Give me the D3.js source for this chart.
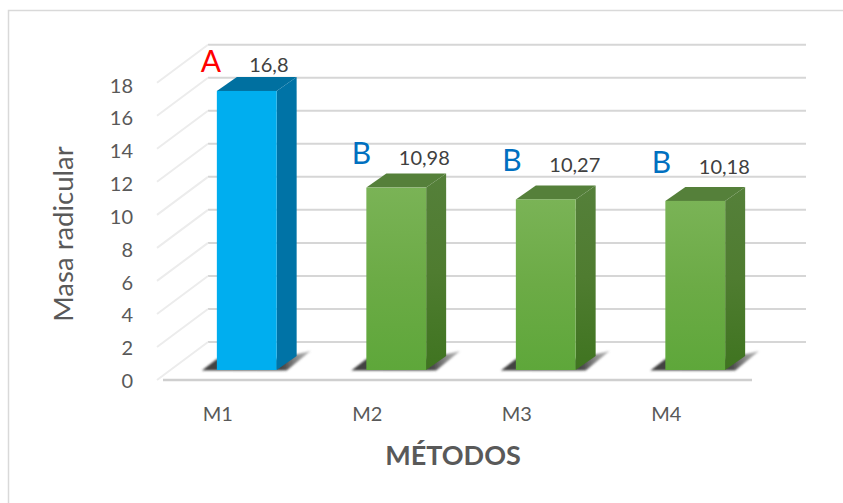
<!DOCTYPE html>
<html>
<head>
<meta charset="utf-8">
<script src="https://cdn.jsdelivr.net/npm/d3@7"></script>
<style>
html,body{margin:0;padding:0;background:#fff;overflow:hidden}
text{font-family:Lato,"Open Sans",sans-serif}
</style>
</head>
<body>
<svg id="chart" width="843" height="503"></svg>
<script>
// Root mass per method, with significance letters
const metodos = ["M1", "M2", "M3", "M4"];
const masa = [16.8, 10.98, 10.27, 10.18];
const etiquetas = ["16,8", "10,98", "10,27", "10,18"];
const letras = ["A", "B", "B", "B"];
const yTicks = [0, 2, 4, 6, 8, 10, 12, 14, 16, 18];

const svg = d3.select("#chart");
const defs = svg.append("defs");

// Three value scales: back wall, bar plane, and tick-label column
const yWall = d3.scaleLinear().domain([0, 18]).range([342, 44.7]);
const yBar = d3.scaleLinear().domain([0, 18]).range([370, 71]);
const yLabel = d3.scaleLinear().domain([0, 18]).range([381, 85.5]);
const x = d3.scaleBand().domain(metodos).range([172, 770]).paddingInner(0.6).paddingOuter(0.3);

const depthX = 20, depthY = 14;
const sideX = 51, sideY = 38;
const wallLeft = 208, wallRight = 806;

// Hand-placed label offsets relative to each bar's top-left corner
const valueOffset = (i) => i === 0 ? [52, -19] : i === 1 ? [58, -23] : [59, -27];
const letterOffset = (i) => i === 0 ? [-6, -19] : i === 1 ? [-5, -24] : [-4, -28];

// Frame: top and left edges only
svg.append("path").attr("d", "M8.5,503V10.5H843").attr("fill", "none")
  .attr("stroke", "#d9d9d9").attr("stroke-width", 1.5);

// Gradients for the front faces
const grad = (id, a, b, c) => {
  const g = defs.append("linearGradient").attr("id", id).attr("x1", 0).attr("x2", 0).attr("y1", 0).attr("y2", 1);
  g.append("stop").attr("offset", "0%").attr("stop-color", a);
  g.append("stop").attr("offset", "50%").attr("stop-color", b);
  g.append("stop").attr("offset", "100%").attr("stop-color", c);
};
grad("frontGreen", "#7ab356", "#6cab46", "#5ea73a");
grad("sideGreen", "#55803a", "#4f7c30", "#3f7420");
const sh = defs.append("linearGradient").attr("id", "floorShadow").attr("x1", 0).attr("x2", 1).attr("y1", 0).attr("y2", 0);
sh.append("stop").attr("offset", "0%").attr("stop-color", "#404040").attr("stop-opacity", 1);
sh.append("stop").attr("offset", "75%").attr("stop-color", "#404040").attr("stop-opacity", 0.95);
sh.append("stop").attr("offset", "100%").attr("stop-color", "#777").attr("stop-opacity", 0.45);
defs.append("filter").attr("id", "soft").attr("x", "-10%").attr("y", "-50%").attr("width", "120%").attr("height", "200%")
  .append("feGaussianBlur").attr("stdDeviation", 0.9);
defs.append("filter").attr("id", "softLine").attr("x", "-5%").attr("y", "-5%").attr("width", "110%").attr("height", "110%")
  .append("feGaussianBlur").attr("stdDeviation", 0.6);

// Back wall gridlines and the slanted side-wall lines
const grid = svg.append("g").attr("filter", "url(#softLine)");
grid.selectAll(".wall").data(yTicks).join("line")
  .attr("x1", wallLeft).attr("x2", wallRight)
  .attr("y1", d => yWall(d)).attr("y2", d => yWall(d))
  .attr("stroke", "#d6d6d6").attr("stroke-width", 2);
grid.selectAll(".side").data(yTicks).join("line")
  .attr("x1", wallLeft).attr("x2", wallLeft - sideX)
  .attr("y1", d => yWall(d)).attr("y2", d => yWall(d) + sideY)
  .attr("stroke", "#ececec").attr("stroke-width", 2);
grid.append("line")
  .attr("x1", wallLeft - sideX + 6).attr("x2", 752)
  .attr("y1", yWall(0) + sideY).attr("y2", yWall(0) + sideY)
  .attr("stroke", "#cfcfcf").attr("stroke-width", 2.5);

// Floor shadows
svg.selectAll(".shadow").data(metodos).join("path")
  .attr("filter", "url(#soft)")
  .attr("fill", "url(#floorShadow)")
  .attr("d", d => {
    const x0 = x(d), w = x.bandwidth(), b = yBar(0);
    return `M${x0 - 15},${b + 0.5}L${x0},${b - 11}H${x0 + w}L${x0 + w + 34},${b - 19}L${x0 + w + 10},${b + 0.5}Z`;
  });

// Bars: top, side and front faces
const bars = svg.selectAll(".bar").data(metodos.map((m, i) => ({ m, v: masa[i], i }))).join("g");
bars.append("path")
  .attr("fill", d => d.i === 0 ? "#0070a0" : "#55803a")
  .attr("d", d => {
    const x0 = x(d.m), w = x.bandwidth(), t = yBar(d.v);
    return `M${x0},${t}L${x0 + depthX},${t - depthY}H${x0 + w + depthX}L${x0 + w},${t}Z`;
  });
bars.append("path")
  .attr("fill", d => d.i === 0 ? "#0073a6" : "url(#sideGreen)")
  .attr("d", d => {
    const x0 = x(d.m), w = x.bandwidth(), t = yBar(d.v), b = yBar(0);
    return `M${x0 + w},${t}L${x0 + w + depthX},${t - depthY}V${b - depthY}L${x0 + w},${b}Z`;
  });
bars.append("rect")
  .attr("x", d => x(d.m)).attr("width", x.bandwidth())
  .attr("y", d => yBar(d.v)).attr("height", d => yBar(0) - yBar(d.v))
  .attr("fill", d => d.i === 0 ? "#00aeef" : "url(#frontGreen)");

// Value labels and significance letters
bars.append("text")
  .attr("x", d => x(d.m) + valueOffset(d.i)[0]).attr("y", d => yBar(d.v) + valueOffset(d.i)[1])
  .attr("text-anchor", "middle").attr("font-size", 20).attr("fill", "#404040")
  .text(d => etiquetas[d.i]);
bars.append("text")
  .attr("x", d => x(d.m) + letterOffset(d.i)[0]).attr("y", d => yBar(d.v) + letterOffset(d.i)[1])
  .attr("text-anchor", "middle").attr("font-size", 30)
  .attr("fill", d => d.i === 0 ? "#ff0000" : "#0070c0")
  .text(d => letras[d.i]);

// Value-axis tick labels
svg.selectAll(".ytick").data(yTicks).join("text")
  .attr("x", 133).attr("y", d => yLabel(d)).attr("dy", "0.35em")
  .attr("text-anchor", "end").attr("font-size", 20).attr("fill", "#595959")
  .text(d => d);

// Category labels sit under each bar's left edge
svg.selectAll(".xtick").data(metodos).join("text")
  .attr("x", d => x(d) + 1).attr("y", 421)
  .attr("text-anchor", "middle").attr("font-size", 20).attr("fill", "#595959")
  .text(d => d);

// Axis titles
svg.append("text").attr("x", 453).attr("y", 465)
  .attr("text-anchor", "middle").attr("font-size", 27).attr("font-weight", 700).attr("fill", "#595959")
  .text("MÉTODOS");
svg.append("text").attr("transform", "translate(73,234) rotate(-90)")
  .attr("text-anchor", "middle").attr("font-size", 27.5).attr("fill", "#595959")
  .text("Masa radicular");
</script>
</body>
</html>
